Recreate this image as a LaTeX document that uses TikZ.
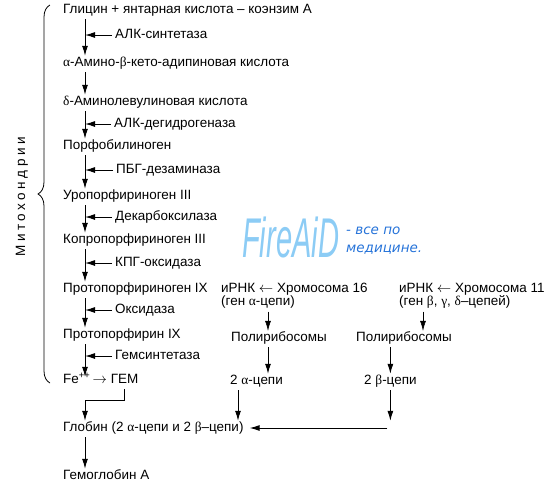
\documentclass[tikz,border=0pt]{standalone}
\usepackage{fontspec}
\setmainfont{Liberation Sans}
\newfontfamily\greekfont{Liberation Serif}
\newfontfamily\slogantype{DejaVu Sans}
\usetikzlibrary{
arrows.meta,
positioning,
decorations.pathreplacing
}
\newcommand{\gr}[1]{{\greekfont #1}}
\tikzset{
  substance/.style={
    anchor=west,
    inner sep=0pt,
    text height=9.5pt,
    text depth=2.5pt,
    font=\fontsize{13.45}{13.45}\selectfont
  },
  gene/.style={
    anchor=north west,
    inner sep=0pt,
    align=left,
    font=\fontsize{13.45}{13}\selectfont
  }
}
\begin{document}
\begin{tikzpicture}[
    x=1pt,y=-1pt,
    flow/.style={
      line width=1pt,
      shorten <=3pt,
      shorten >=1pt,
      -{Latex[length=10pt,width=6pt]}
    },
    thinflow/.style={
      flow,
      line width=0.5pt
    },
    catalysis/.style={
      line width=1pt,
      shorten <=3pt,
      -{Latex[length=10pt,width=6pt]}
    },
    mitobrace/.style={
      decorate,
      decoration={brace,amplitude=12pt},
      line width=0.8pt
    },
    watermark/.style={
      anchor=base west,
      inner sep=0pt,
      text={rgb,1:red,0.55;green,0.8;blue,0.96},
      font=\fontsize{56}{56}\selectfont\itshape
    },
    slogan/.style={
      anchor=base west,
      inner sep=0pt,
      text={rgb,1:red,0.15;green,0.45;blue,0.85},
      font=\fontsize{13.5}{13.5}\slogantype\itshape
    }
  ]
  \useasboundingbox (0,0) rectangle (550,491);
  \coordinate (spine) at (85,0);
  \coordinate (alphaaxis) at (268,0);
  \coordinate (betaaxis) at (423,0);
  \coordinate (joinaxis) at (238,0);

  % heme synthesis
  \node[substance] (gly) at (63,10) {Глицин + янтарная кислота – коэнзим А};
  \node[substance] (ala0) at (63,63) {\gr{α}-Амино-\gr{β}-кето-адипиновая кислота};
  \node[substance] (ala) at (63,102) {\gr{δ}-Аминолевулиновая кислота};
  \node[substance] (pbg) at (63,146) {Порфобилиноген};
  \node[substance] (uro) at (63,196) {Уропорфириноген III};
  \node[substance] (copro) at (63,240) {Копропорфириноген III};
  \node[substance] (protogen) at (63,289) {Протопорфириноген IX};
  \node[substance] (proto) at (63,335) {Протопорфирин IX};
  \node[substance] (fe) at (63,380) {Fe\textsuperscript{++}\,$\rightarrow$};
  \node[substance,right=3.5pt of fe] (heme) {ГЕМ};
  \node[substance] (globin) at (63,428) {Глобин (2 \gr{α}-цепи и 2 \gr{β}–цепи)};
  \node[substance] (hba) at (63,476) {Гемоглобин А};

  \node[substance] (alas) at (115,35) {АЛК-синтетаза};
  \node[substance] (alad) at (114,124) {АЛК-дегидрогеназа};
  \node[substance] (pbgd) at (116,170) {ПБГ-дезаминаза};
  \node[substance] (decarb) at (115,217) {Декарбоксилаза};
  \node[substance] (cpgox) at (115,263) {КПГ-оксидаза};
  \node[substance] (ox) at (115,310) {Оксидаза};
  \node[substance] (fech) at (115,356) {Гемсинтетаза};

  \draw[flow] (gly.south -| spine) -- (ala0.north -| spine);
  \draw[flow] (ala0.south -| spine) -- (ala.north -| spine);
  \draw[flow] (ala.south -| spine) -- (pbg.north -| spine);
  \draw[flow] (pbg.south -| spine) -- (uro.north -| spine);
  \draw[flow] (uro.south -| spine) -- (copro.north -| spine);
  \draw[flow] (copro.south -| spine) -- (protogen.north -| spine);
  \draw[flow] (protogen.south -| spine) -- (proto.north -| spine);
  \draw[flow,shorten >=-3pt] (proto.south -| spine) -- (fe.north -| spine);
  \draw[flow] (heme.south) -- ++(0,14) -| (globin.north -| spine);
  \draw[flow] (globin.south -| spine) -- (hba.north -| spine);

  \foreach \enz in {alas,alad,pbgd,decarb,cpgox,ox,fech}
    \draw[catalysis] (\enz.west) -- (\enz.west -| spine);

  \draw[mitobrace] (50,383) -- (50,5);
  \node[rotate=90,inner sep=0pt,font=\fontsize{13.5}{13.5}\selectfont\addfontfeature{LetterSpace=26}] (mito) at (22,197) {Митохондрии};

  % globin chains
  \node[gene] (chr16) at (221,283) {иРНК $\leftarrow$ Хромосома 16\\(ген \gr{α}-цепи)};
  \node[substance] (poly16) at (231,338) {Полирибосомы};
  \node[substance] (alpha2) at (230,381) {2 \gr{α}-цепи};
  \node[gene] (chr11) at (399,283) {иРНК $\leftarrow$ Хромосома 11\\(ген \gr{β}, \gr{γ}, \gr{δ}–цепей)};
  \node[substance] (poly11) at (356,338) {Полирибосомы};
  \node[substance] (beta2) at (364,381) {2 \gr{β}-цепи};

  \draw[thinflow] (chr16.south -| alphaaxis) -- (poly16.north -| alphaaxis);
  \draw[flow] (poly16.south -| alphaaxis) -- (alpha2.north -| alphaaxis);
  \draw[flow] (alpha2.south -| joinaxis) -- (globin.north -| joinaxis);
  \draw[thinflow] (chr11.south -| betaaxis) -- (poly11.north -| betaaxis);
  \draw[flow] (poly11.south -| beta2) -- (beta2.north);
  \draw[flow] (beta2.south) -- (beta2.south |- globin.north);
  \draw[flow,shorten >=6pt] (beta2.south |- globin) -- (globin.east);

  % watermark
  \node[watermark] (fireaid) at (242,257) {\scalebox{0.52}[1]{FireAiD}};
  \node[slogan] (slogan1) at (346,234) {- все по};
  \node[slogan] (slogan2) at (346,252) {медицине.};
\end{tikzpicture}
\end{document}
